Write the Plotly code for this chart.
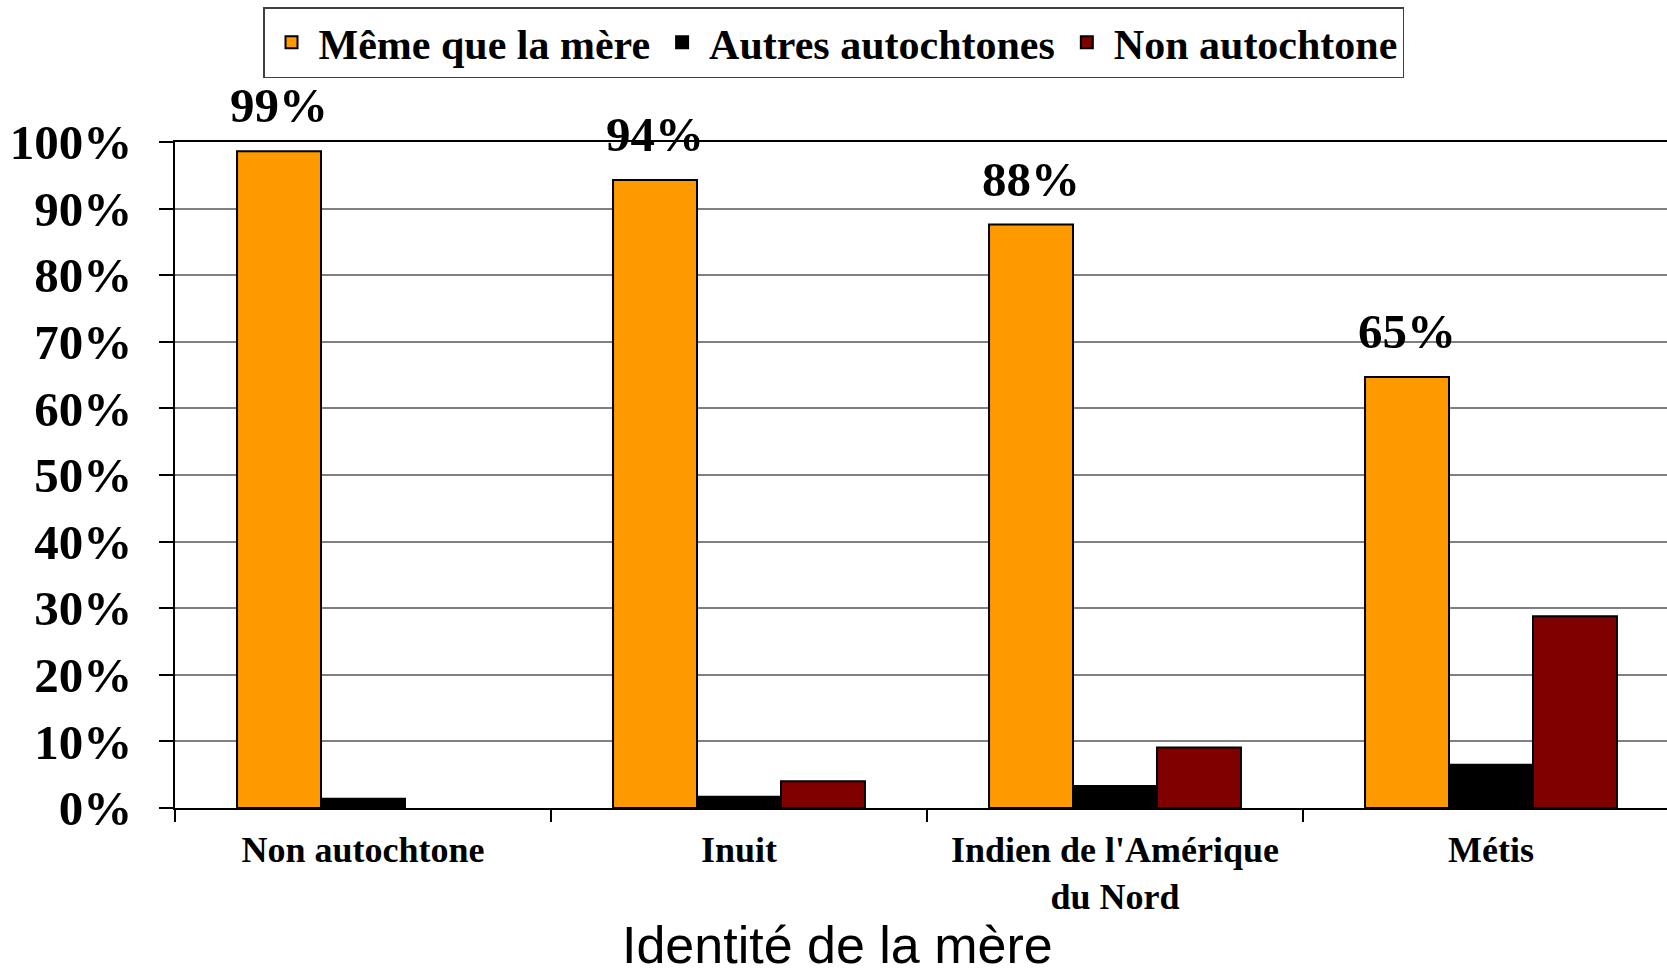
import plotly.graph_objects as go

categories = ["Non autochtone", "Inuit", "Indien de l'Amérique<br>du Nord", "Métis"]
series_names = ["Même que la mère", "Autres autochtones", "Non autochtone"]
meme_que_mere = [98.6, 94.3, 87.6, 64.7]
autres_autochtones = [1.4, 1.7, 3.3, 6.5]
non_autochtone = [None, 4.0, 9.1, 28.8]
value_labels = ["99%", "94%", "88%", "65%"]
y_tick_vals = [0, 10, 20, 30, 40, 50, 60, 70, 80, 90, 100]
y_tick_text = ["0%", "10%", "20%", "30%", "40%", "50%", "60%", "70%", "80%", "90%", "100%"]
x_title = "Identité de la mère"

colors = ["#FF9900", "#000000", "#800000"]

W, H = 1667, 980
ML, MR, MT, MB = 175, 0, 142, 172
cat_px = 376.0
bargap = 0.33
x_right = -0.5 + (W - ML - MR) / cat_px
bar_px = cat_px * (1 - bargap) / 3

serif_bold = dict(family="Liberation Serif", color="black", weight="bold")

fig = go.Figure()
for name, vals, col in zip(series_names, [meme_que_mere, autres_autochtones, non_autochtone], colors):
    fig.add_trace(go.Bar(
        name=name, x=categories, y=vals,
        marker=dict(color=col, line=dict(color="black", width=2)),
        cliponaxis=False,
    ))

for cat, v, lab in zip(categories, meme_que_mere, value_labels):
    fig.add_annotation(
        x=cat, y=v, xref="x", yref="y", text=lab, showarrow=False,
        xshift=-bar_px, yshift=16, yanchor="bottom", xanchor="center",
        font=dict(size=49, **serif_bold),
    )

plot_h = H - MT - MB
fig.add_annotation(
    x=(837 - ML) / (W - ML - MR), y=(-(945 - (H - MB)) / plot_h),
    xref="paper", yref="paper", text=x_title, showarrow=False,
    xanchor="center", yanchor="middle",
    font=dict(family="Liberation Sans", size=52, color="black"),
)

fig.update_layout(
    width=W, height=H, autosize=False,
    margin=dict(l=ML, r=MR, t=MT, b=MB, pad=0),
    paper_bgcolor="white", plot_bgcolor="white",
    barmode="group", bargap=bargap, bargroupgap=0,
    showlegend=True,
    legend=dict(
        orientation="h", x=(833.5 - ML) / (W - ML - MR), xanchor="center",
        y=1 + (MT - 7) / plot_h, yanchor="top",
        bgcolor="white", bordercolor="#404040", borderwidth=1.5,
        font=dict(size=42, **serif_bold),
        traceorder="normal", itemsizing="constant", itemwidth=44,
    ),
    xaxis=dict(
        type="category", range=[-0.5, x_right],
        showline=True, linecolor="black", linewidth=2, mirror=True,
        ticks="outside", tickson="boundaries", ticklen=12, tickcolor="black", tickwidth=1.5,
        showgrid=False, ticklabelstandoff=9,
        tickfont=dict(size=36, **serif_bold),
    ),
    yaxis=dict(
        range=[0, 100], tickvals=y_tick_vals, ticktext=y_tick_text,
        showline=True, linecolor="black", linewidth=2,
        ticks="outside", ticklen=14, tickcolor="black", tickwidth=1.5,
        showgrid=True, gridcolor="#808080", gridwidth=1.5, zeroline=False,
        ticklabelstandoff=17,
        tickfont=dict(size=49, **serif_bold),
    ),
)

fig.write_html("out.html", config={"displayModeBar": False},
               post_script="document.body.style.margin='0';")
